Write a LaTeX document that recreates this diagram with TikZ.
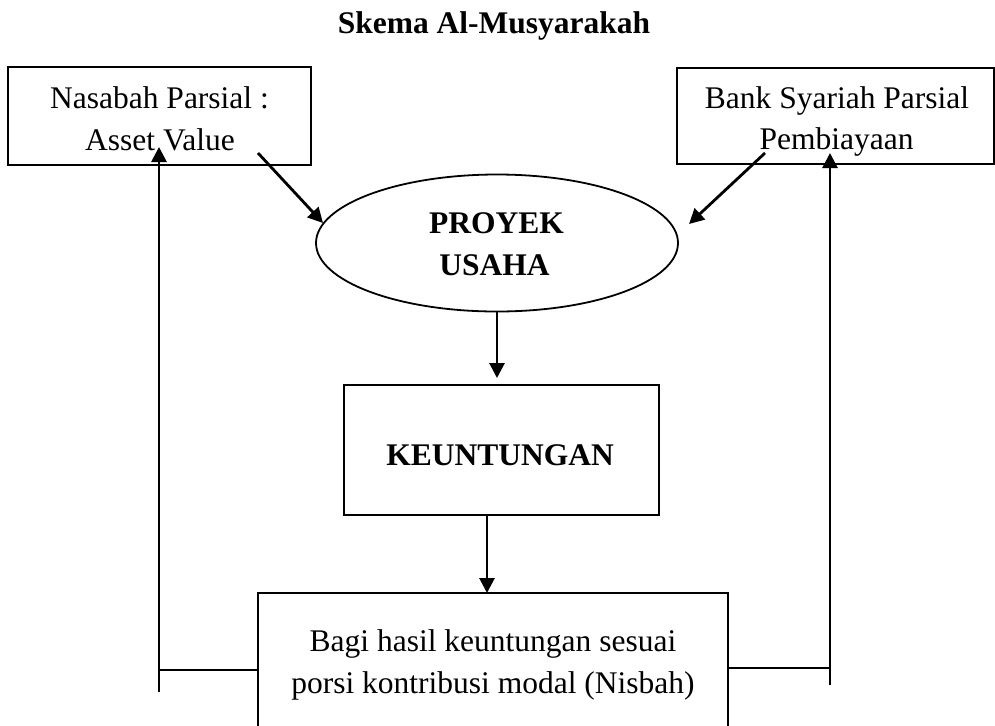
\documentclass[tikz,border=0pt]{standalone}
\usepackage{fontspec}
\setmainfont{Liberation Serif}
\usetikzlibrary{shapes.geometric,arrows.meta}
\begin{document}
\begin{tikzpicture}[x=0.5pt,y=-0.5pt,
  every node/.style={font=\fontsize{15.75}{19}\selectfont},
  box/.style={draw,line width=1pt,inner sep=0pt,outer sep=0pt},
  txt/.style={anchor=base,inner sep=0pt},
  arr/.style={line width=1.4pt,-{Triangle[length=7.5pt,width=7.5pt]}},
  ln/.style={line width=1.2pt}]
\useasboundingbox (0,0) rectangle (995,725);

% title
\node[txt,font=\fontsize{15.75}{19}\selectfont\bfseries] (title) at (494,33) {Skema Al-Musyarakah};

% boxes
\node[box,minimum width=151.5pt,minimum height=49pt] (nas) at (159.5,116) {};
\node[box,minimum width=158.5pt,minimum height=48pt] (bank) at (835.5,116) {};
\node[box,ellipse,line width=0.9pt,minimum width=181pt,minimum height=68.5pt] (pro) at (497,243) {};
\node[box,minimum width=157.5pt,minimum height=65pt] (keu) at (501.5,450) {};
\node[box,minimum width=235pt,minimum height=67.5pt] (bot) at (493,660.5) {};

% texts
\node[txt] (nas1) at (159.5,108) {Nasabah Parsial :};
\node[txt] (nas2) at (160,150) {Asset Value};
\node[txt] (bank1) at (837,108) {Bank Syariah Parsial};
\node[txt] (bank2) at (836.5,149) {Pembiayaan};
\node[txt,font=\fontsize{15.75}{19}\selectfont\bfseries] (pro1) at (496.5,233) {PROYEK};
\node[txt,font=\fontsize{15.75}{19}\selectfont\bfseries] (pro2) at (494.5,275) {USAHA};
\node[txt,font=\fontsize{15.75}{19}\selectfont\bfseries] (keu1) at (500,465) {KEUNTUNGAN};
\node[txt] (bot1) at (493,651) {Bagi hasil keuntungan sesuai};
\node[txt] (bot2) at (493,693) {porsi kontribusi modal (Nisbah)};

% connector points
\coordinate (nasOut) at (258,153);
\coordinate (proL) at (323,223);
\coordinate (bankOut) at (765,153);
\coordinate (proR) at (689,224);
\coordinate (keuOut) at (487,515);
\coordinate (lTop) at (159,147);
\coordinate (lBot) at (159,692);
\coordinate (lJoin) at (159,670);
\coordinate (rTop) at (830,153);
\coordinate (rBot) at (830,685);
\coordinate (rJoin) at (830,668);

% connectors
\draw[arr] (nasOut) -- (proL);
\draw[arr] (bankOut) -- (proR);
\draw[arr,shorten >=3.5pt] (pro.south) -- (pro.south |- keu.north);
\draw[arr] (keuOut) -- (keuOut |- bot.north);
\draw[arr] (lBot) -- (lTop);
\draw[ln] (bot.west |- lJoin) -- (lJoin);
\draw[arr] (rBot) -- (rTop);
\draw[ln] (bot.east |- rJoin) -- (rJoin);
\end{tikzpicture}
\end{document}
